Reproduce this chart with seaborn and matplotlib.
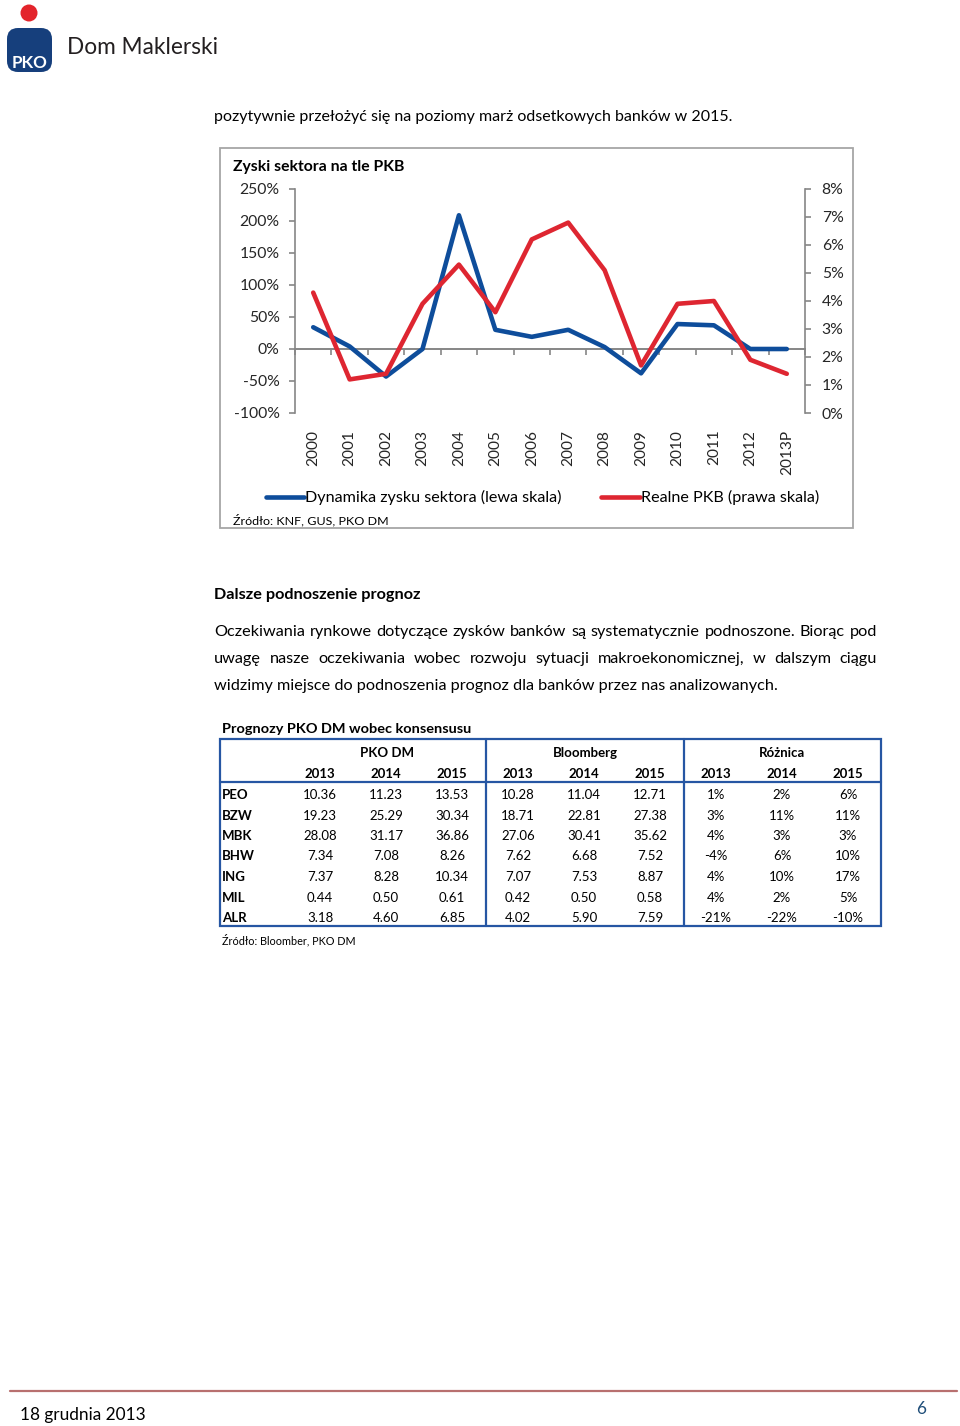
import numpy as np
import pandas as pd
import matplotlib
matplotlib.use("Agg")
import matplotlib.pyplot as plt
import seaborn as sns
from matplotlib.lines import Line2D
from matplotlib.patches import Rectangle, FancyBboxPatch, Circle
from matplotlib.transforms import IdentityTransform
import matplotlib.ticker as mticker

# ---------------- data ----------------
years = ["2000", "2001", "2002", "2003", "2004", "2005", "2006",
         "2007", "2008", "2009", "2010", "2011", "2012", "2013P"]
profit_growth = [34, 4, -43, 0, 209, 30, 19, 30, 3, -38, 39, 37, 0, 0]      # % (left)
real_gdp = [4.3, 1.2, 1.4, 3.9, 5.3, 3.6, 6.2, 6.8, 5.1, 1.7, 3.9, 4.0, 1.9, 1.4]  # % (right)
left_ticks = [-100, -50, 0, 50, 100, 150, 200, 250]
right_ticks = [0, 1, 2, 3, 4, 5, 6, 7, 8]

banks = ["PEO", "BZW", "MBK", "BHW", "ING", "MIL", "ALR"]
forecast_years = ["2013", "2014", "2015"]
groups = ["PKO DM", "Bloomberg", "Różnica"]
pko_dm = [[10.36, 11.23, 13.53], [19.23, 25.29, 30.34], [28.08, 31.17, 36.86],
          [7.34, 7.08, 8.26], [7.37, 8.28, 10.34], [0.44, 0.50, 0.61], [3.18, 4.60, 6.85]]
bloomberg = [[10.28, 11.04, 12.71], [18.71, 22.81, 27.38], [27.06, 30.41, 35.62],
             [7.62, 6.68, 7.52], [7.07, 7.53, 8.87], [0.42, 0.50, 0.58], [4.02, 5.90, 7.59]]
roznica = [[1, 2, 6], [3, 11, 11], [4, 3, 3], [-4, 6, 10], [4, 10, 17], [4, 2, 5], [-21, -22, -10]]

# ---------------- style ----------------
sns.set_style("white")
plt.rcParams['font.family'] = ['Lato', 'DejaVu Sans']

W, H = 960, 1426
fig = plt.figure(figsize=(W / 100, H / 100), dpi=100)
fig.patch.set_facecolor("white")
renderer = fig.canvas.get_renderer()

BLUE = "#0E4D9B"
RED = "#DE2631"
GRAY = "#868686"
TBLUE = "#2656A3"


def fx(x):
    return x / W


def fy(y):
    return 1 - y / H


def text_width(s, size, weight="normal"):
    t = fig.text(0, 0, s, fontsize=size, fontweight=weight)
    w = t.get_window_extent(renderer).width
    t.remove()
    return w


def fit_size(s, target, weight="normal"):
    return 10 * target / text_width(s, 10, weight)


def put(x, y, s, size, weight="normal", color="black", ha="left", va="baseline", **kw):
    return fig.text(fx(x), fy(y), s, fontsize=size, fontweight=weight,
                    color=color, ha=ha, va=va, **kw)


def justify(x0, x1, y, line, size):
    words = line.split()
    widths = [text_width(w, size) for w in words]
    gap = (x1 - x0 - sum(widths)) / (len(words) - 1)
    x = x0
    for wd_s, wd in zip(words, widths):
        put(x, y, wd_s, size)
        x += wd + gap


# ---------------- header / logo ----------------
idt = IdentityTransform()
fig.add_artist(FancyBboxPatch((7, H - 72), 45, 44, boxstyle="round,pad=0,rounding_size=11",
                              transform=idt, fc="#163F7C", ec="none"))
fig.add_artist(Circle((29, H - 13), 8.5, transform=idt, fc="#E3242B", ec="none"))
put(29.5, 68, "PKO", fit_size("PKO", 36, "bold"), weight="bold", color="white", ha="center")
put(67, 54, "Dom Maklerski", fit_size("Dom Maklerski", 151), color="#231F20")

put(214, 121, "pozytywnie przełożyć się na poziomy marż odsetkowych banków w 2015.",
    fit_size("pozytywnie przełożyć się na poziomy marż odsetkowych banków w 2015.", 522))

# ---------------- chart ----------------
fig.add_artist(Rectangle((fx(220), fy(528)), fx(853) - fx(220), fy(148) - fy(528),
                         transform=fig.transFigure, fill=False, ec="#A6A6A6", lw=1.3))
put(233, 171, "Zyski sektora na tle PKB", fit_size("Zyski sektora na tle PKB", 171, "bold"),
    weight="bold")

ax = fig.add_axes([fx(295), fy(413), fx(805) - fx(295), fy(189) - fy(413)])
ax.set_facecolor("none")
xpos = np.arange(len(years))
df = pd.DataFrame({"x": xpos, "profit": profit_growth, "gdp": real_gdp})

sns.lineplot(data=df, x="x", y="profit", ax=ax, color=BLUE, linewidth=3.3, legend=False)
ax.set_xlim(-0.5, len(years) - 0.5)
ax.set_ylim(left_ticks[0], left_ticks[-1])
ax.set_yticks(left_ticks)
ax.yaxis.set_major_formatter(mticker.FuncFormatter(lambda v, p: f"{v:.0f}%"))
tick_size = fit_size("250%", 40)
ax.tick_params(axis="y", direction="out", length=4, width=1.2, color=GRAY,
               pad=7, labelsize=tick_size, left=True)
ax.set_xticks(xpos)
ax.set_xticklabels(years, rotation=90)
ax.tick_params(axis="x", length=0, pad=12, labelsize=fit_size("2013P", 45))
for s in ["top", "right", "bottom"]:
    ax.spines[s].set_visible(False)
ax.spines["left"].set_color(GRAY)
ax.spines["left"].set_linewidth(1.2)
ax.set_xlabel("")
ax.set_ylabel("")

# horizontal category axis crossing at 0%
zero_frac = (0 - left_ticks[0]) / (left_ticks[-1] - left_ticks[0])
sec = ax.secondary_xaxis(zero_frac)
sec.set_xticks(np.arange(len(years) + 1) - 0.5)
sec.tick_params(axis="x", direction="out", length=4, width=1.2, color=GRAY,
                labelbottom=False, labeltop=False)
for s in sec.spines.values():
    s.set_color(GRAY)
    s.set_linewidth(1.4)

ax2 = ax.twinx()
sns.lineplot(data=df, x="x", y="gdp", ax=ax2, color=RED, linewidth=3.3, legend=False)
ax2.set_ylim(right_ticks[0], right_ticks[-1])
ax2.set_yticks(right_ticks)
ax2.yaxis.set_major_formatter(mticker.FuncFormatter(lambda v, p: f"{v:.0f}%"))
ax2.tick_params(axis="y", direction="out", length=4, width=1.2, color=GRAY,
                pad=8, labelsize=tick_size, right=True)
for s in ["top", "left", "bottom"]:
    ax2.spines[s].set_visible(False)
ax2.spines["right"].set_color(GRAY)
ax2.spines["right"].set_linewidth(1.2)
ax2.set_ylabel("")
ax2.set_xlabel("")

# legend
leg_size = fit_size("Dynamika zysku sektora (lewa skala)", 257)
fig.add_artist(Line2D([fx(266), fx(304)], [fy(497), fy(497)], color=BLUE, lw=3.3,
                      transform=fig.transFigure))
put(305, 502, "Dynamika zysku sektora (lewa skala)", leg_size)
fig.add_artist(Line2D([fx(601), fx(640)], [fy(497), fy(497)], color=RED, lw=3.3,
                      transform=fig.transFigure))
put(641, 502, "Realne PKB (prawa skala)", leg_size)
put(233, 524, "Źródło: KNF, GUS, PKO DM", fit_size("Źródło: KNF, GUS, PKO DM", 155))

# ---------------- section text ----------------
put(214, 599, "Dalsze podnoszenie prognoz",
    fit_size("Dalsze podnoszenie prognoz", 206, "bold"), weight="bold")
para = ["Oczekiwania rynkowe dotyczące zysków banków są systematycznie podnoszone. Biorąc pod",
        "uwagę nasze oczekiwania wobec rozwoju sytuacji makroekonomicznej, w dalszym ciągu",
        "widzimy miejsce do podnoszenia prognoz dla banków przez nas analizowanych."]
psize = fit_size(para[2], 567)
justify(214, 877, 636, para[0], psize)
justify(214, 877, 663, para[1], psize)
put(214, 690, para[2], psize)

# ---------------- table ----------------
put(222, 733, "Prognozy PKO DM wobec konsensusu",
    fit_size("Prognozy PKO DM wobec konsensusu", 249, "bold"), weight="bold")
tsize = fit_size("10.36", 34)
col_x = [320, 386, 452, 518, 584, 650, 716, 782, 848]
group_x = [387, 585, 782]
for g, gx in zip(groups, group_x):
    put(gx, 757, g, tsize, weight="bold", ha="center")
for i, cx in enumerate(col_x):
    put(cx, 778, forecast_years[i % 3], tsize, weight="bold", ha="center")
row_y0, row_dy = 799, 20.5
for r, b in enumerate(banks):
    y = row_y0 + r * row_dy
    put(222, y, b, tsize, weight="bold")
    vals = ([f"{v:.2f}" for v in pko_dm[r]] + [f"{v:.2f}" for v in bloomberg[r]]
            + [f"{v}%" for v in roznica[r]])
    for cx, v in zip(col_x, vals):
        put(cx, y, v, tsize, ha="center")

fig.add_artist(Rectangle((fx(220), fy(926)), fx(881) - fx(220), fy(739) - fy(926),
                         transform=fig.transFigure, fill=False, ec=TBLUE, lw=1.6))
for vx in [486, 684]:
    fig.add_artist(Line2D([fx(vx), fx(vx)], [fy(739), fy(926)], color=TBLUE, lw=1.6,
                          transform=fig.transFigure))
fig.add_artist(Line2D([fx(220), fx(881)], [fy(782), fy(782)], color=TBLUE, lw=1.6,
                      transform=fig.transFigure))
put(222, 944, "Źródło: Bloomber, PKO DM", fit_size("Źródło: Bloomber, PKO DM", 133))

# ---------------- footer ----------------
fig.add_artist(Line2D([fx(10), fx(957)], [fy(1391), fy(1391)], color="#B8706F", lw=1.6,
                      transform=fig.transFigure))
put(20, 1420, "18 grudnia 2013", fit_size("18 grudnia 2013", 126))
put(921, 1414, "6", fit_size("18 grudnia 2013", 126), color="#1F4E79", ha="center")

fig.savefig("out.png", dpi=100, facecolor="white")
